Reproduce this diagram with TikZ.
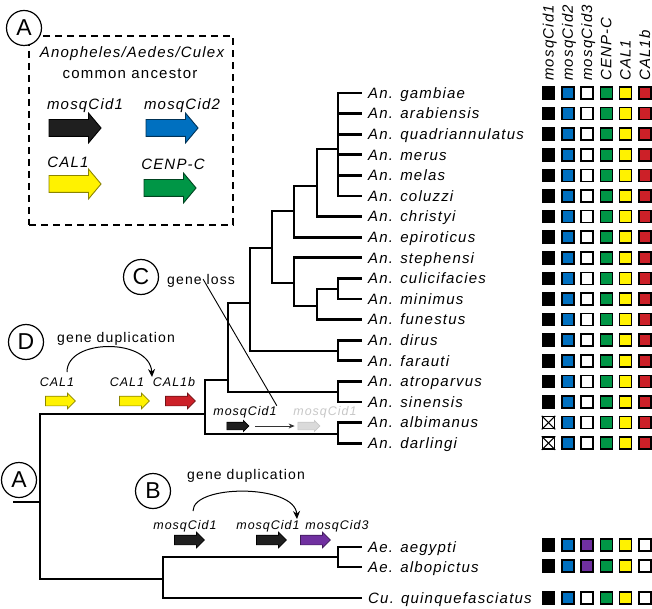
\documentclass[tikz,border=0pt]{standalone}
\usepackage{fontspec}
\setmainfont{Liberation Sans}
\newfontfamily\labf[LetterSpace=8]{Liberation Sans}
\usetikzlibrary{shapes.arrows,arrows.meta}
\definecolor{gblue}{RGB}{0,112,192}
\definecolor{ggreen}{RGB}{0,150,70}
\definecolor{gyellow}{RGB}{255,242,0}
\definecolor{gred}{RGB}{204,32,40}
\definecolor{gpurple}{RGB}{112,48,160}
\definecolor{ggray}{RGB}{218,218,218}
\begin{document}
\begin{tikzpicture}[x=1pt,y=-1pt,
  tree/.style={line width=2.8pt},
  sp/.style={anchor=base west,inner sep=0pt,font=\labf\fontsize{15}{18}\itshape},
  hdr/.style={rotate=90,anchor=base west,inner sep=0pt,font=\labf\fontsize{15}{18}\itshape},
  leglab/.style={anchor=base,inner sep=0pt,font=\labf\fontsize{15}{18}\itshape},
  glab/.style={anchor=base,inner sep=0pt,font=\labf\fontsize{12.5}{14}\itshape},
  note/.style={anchor=base west,inner sep=0pt,font=\labf\fontsize{14}{16}\selectfont},
  circ/.style={circle,draw,fill=white,line width=1.2pt,minimum size=35pt,inner sep=0pt,font=\fontsize{23}{23}\selectfont},
  cell/.style={draw=black,line width=1.5pt,minimum size=12pt,inner sep=0pt},
  gbig/.style 2 args={single arrow,fill=#1,draw=#2,line width=0.9pt,inner xsep=0pt,inner ysep=8pt,minimum height=52pt,minimum width=0pt,single arrow head extend=6.5pt,single arrow tip angle=100},
  gsmall/.style 2 args={single arrow,fill=#1,draw=#2,line width=0.7pt,inner xsep=0pt,inner ysep=4.5pt,minimum height=30pt,minimum width=0pt,single arrow head extend=3pt,single arrow tip angle=90},
  gtiny/.style 2 args={single arrow,fill=#1,draw=#2,line width=0.6pt,inner xsep=0pt,inner ysep=3.5pt,minimum height=22pt,minimum width=0pt,single arrow head extend=1.8pt,single arrow tip angle=90},
  dup/.style={line width=1pt,-{Stealth[length=8pt,width=7pt]}}
]
\useasboundingbox (0,0) rectangle (652,609);

% ---------- legend box ----------
\node[draw,dash pattern=on 7pt off 5pt,line width=1.1pt,minimum width=204pt,minimum height=189pt,inner sep=0pt] (legend) at (131,130.5) {};
\node[leglab,font=\labf\fontsize{15}{18}\itshape] (lt1) at (132,58) {Anopheles/Aedes/Culex};
\node[leglab,font=\labf\fontsize{15}{18}\selectfont] (lt2) at (130,79) {common ancestor};
\node[leglab] (l1) at (85,110) {mosqCid1};
\node[leglab] (l2) at (182,110) {mosqCid2};
\node[leglab] (l3) at (68,168) {CAL1};
\node[leglab] (l4) at (173,170) {CENP-C};
\node[gbig={black!88}{black}] (a1) at (71.5,128) {};
\node[gbig={gblue}{gblue!45!black}] (a2) at (168.5,128) {};
\node[gbig={gyellow}{gyellow!55!black}] (a3) at (71.5,184) {};
\node[gbig={ggreen}{ggreen!45!black}] (a4) at (166.5,188) {};
\node[circ] (cA) at (24,28) {A};

% ---------- species ----------
\foreach \n [count=\i from 0] in {gambiae,arabiensis,quadriannulatus,merus,melas,coluzzi,christyi,epiroticus,stephensi,culicifacies,minimus,funestus,dirus,farauti,atroparvus,sinensis,albimanus,darlingi} {
  \coordinate (t\i) at (362,{93+20.6*\i});
  \node[sp] (s\i) at (368,{93+20.6*\i+5.3}) {An. \n};
}
\coordinate (ta1) at (362,547);
\coordinate (ta2) at (362,567);
\coordinate (tc) at (362,598);
\node[sp] (sa1) at (368,552.3) {Ae. aegypti};
\node[sp] (sa2) at (368,572.3) {Ae. albopictus};
\node[sp] (sc) at (368,603.3) {Cu. quinquefasciatus};

% ---------- tree ----------
\coordinate (n1) at (338,149);
\coordinate (n2) at (317,186);
\coordinate (n3) at (294,211);
\coordinate (n4) at (338,289);
\coordinate (n5) at (317,306);
\coordinate (n6) at (294,283);
\coordinate (n7) at (272,248);
\coordinate (n8) at (338,351);
\coordinate (n9) at (250,303);
\coordinate (n10) at (338,392);
\coordinate (n11) at (228,380);
\coordinate (n13) at (338,434);
\coordinate (n12) at (205,414);
\coordinate (root) at (40,502);
\coordinate (stub) at (13,502);
\coordinate (nae) at (338,557);
\coordinate (n14) at (163,579);
\foreach \k in {0,...,5} {\draw[tree] (n1) |- (t\k);}
\draw[tree] (n2) |- (n1);  \draw[tree] (n2) |- (t6);
\draw[tree] (n3) |- (n2);  \draw[tree] (n3) |- (t7);
\draw[tree] (n4) |- (t9);  \draw[tree] (n4) |- (t10);
\draw[tree] (n5) |- (n4);  \draw[tree] (n5) |- (t11);
\draw[tree] (n6) |- (t8);  \draw[tree] (n6) |- (n5);
\draw[tree] (n7) |- (n3);  \draw[tree] (n7) |- (n6);
\draw[tree] (n8) |- (t12); \draw[tree] (n8) |- (t13);
\draw[tree] (n9) |- (n7);  \draw[tree] (n9) |- (n8);
\draw[tree] (n10) |- (t14); \draw[tree] (n10) |- (t15);
\draw[tree] (n11) |- (n9); \draw[tree] (n11) |- (n10);
\draw[tree] (n13) |- (t16); \draw[tree] (n13) |- (t17);
\draw[tree] (n12) |- (n11); \draw[tree] (n12) |- (n13);
\draw[tree] (root) |- (n12); \draw[tree] (root) |- (n14);
\draw[tree] (stub) -- (root);
\draw[tree] (nae) |- (ta1); \draw[tree] (nae) |- (ta2);
\draw[tree] (n14) |- (nae); \draw[tree] (n14) |- (tc);

% ---------- D: CAL1 duplication ----------
\node[circ] (cD) at (26,342) {D};
\node[note] (dD) at (57,342) {gene duplication};
\node[glab] (dl1) at (57,386) {CAL1};
\node[glab] (dl2) at (127,386) {CAL1};
\node[glab] (dl3) at (174,386) {CAL1b};
\node[gsmall={gyellow}{gyellow!55!black}] (dg1) at (58,401) {};
\node[gsmall={gyellow}{gyellow!55!black}] (dg2) at (132,401) {};
\node[gsmall={gred}{gred!55!black}] (dg3) at (178,401) {};
\coordinate (ds) at (67,372);
\coordinate (de) at (152,377);
\draw[dup] (ds) .. controls (67,338) and (150,338) .. (de);

% ---------- C: gene loss ----------
\node[circ] (cC) at (141,277) {C};
\node[note] (gl) at (167,284) {gene loss};
\node[glab] (la) at (245,415) {mosqCid1};
\node[glab,text=black!22] (lb) at (325,415) {mosqCid1};
\node[gtiny={black!88}{black}] (ga) at (236,426) {};
\node[gtiny={ggray}{black!22}] (gb) at (307,426) {};
\draw[line width=0.8pt,black!80,-{Stealth[length=6pt,width=5pt]}] ([xshift=6pt]ga.east) -- ([xshift=-3pt]gb.west);
\draw[line width=0.9pt] ([shift={(2pt,8pt)}]gl.south) -- (la.north east);

% ---------- B: mosqCid duplication ----------
\node[circ] (cB) at (153,491) {B};
\node[note] (dB) at (187,479) {gene duplication};
\node[glab] (bl1) at (185,529) {mosqCid1};
\node[glab] (bl2) at (268,529) {mosqCid1};
\node[glab] (bl3) at (337,529) {mosqCid3};
\node[gsmall={black!88}{black}] (bg1) at (187,540) {};
\node[gsmall={black!88}{black}] (bg2) at (269,540) {};
\node[gsmall={gpurple}{gpurple!55!black}] (bg3) at (313,540) {};
\coordinate (bs) at (193,511);
\coordinate (be) at (297,519);
\draw[dup] (bs) .. controls (193,484) and (295,484) .. (be);

\node[circ] (cA2) at (19,480) {A};

% ---------- presence matrix ----------
\foreach \h [count=\j] in {mosqCid1,mosqCid2,mosqCid3,CENP-C,CAL1,CAL1b} {
  \node[hdr] (h\j) at ({548.5+19.3*(\j-1)+5},81) {\h};
}
\foreach \y/\a/\b/\c/\d/\e/\f [count=\i] in {
  93/black/gblue/white/ggreen/gyellow/gred,
  113.6/black/gblue/white/ggreen/gyellow/gred,
  134.2/black/gblue/white/ggreen/gyellow/gred,
  154.8/black/gblue/white/ggreen/gyellow/gred,
  175.4/black/gblue/white/ggreen/gyellow/gred,
  196/black/gblue/white/ggreen/gyellow/gred,
  216.6/black/gblue/white/ggreen/gyellow/gred,
  237.2/black/gblue/white/ggreen/gyellow/gred,
  257.8/black/gblue/white/ggreen/gyellow/gred,
  278.4/black/gblue/white/ggreen/gyellow/gred,
  299/black/gblue/white/ggreen/gyellow/gred,
  319.6/black/gblue/white/ggreen/gyellow/gred,
  340.2/black/gblue/white/ggreen/gyellow/gred,
  360.8/black/gblue/white/ggreen/gyellow/gred,
  381.4/black/gblue/white/ggreen/gyellow/gred,
  402/black/gblue/white/ggreen/gyellow/gred,
  422.6/white/gblue/white/ggreen/gyellow/gred,
  443.2/white/gblue/white/ggreen/gyellow/gred,
  545/black/gblue/gpurple/ggreen/gyellow/white,
  566/black/gblue/gpurple/ggreen/gyellow/white,
  598/black/gblue/white/ggreen/gyellow/white} {
  \foreach \col [count=\j] in {\a,\b,\c,\d,\e,\f} {
    \node[cell,fill=\col] (g\i-\j) at ({548.5+19.3*(\j-1)},\y) {};
  }
}
\foreach \r in {17,18} {
  \draw[line width=1.1pt] (g\r-1.north west) -- (g\r-1.south east);
  \draw[line width=1.1pt] (g\r-1.north east) -- (g\r-1.south west);
}
\end{tikzpicture}
\end{document}
